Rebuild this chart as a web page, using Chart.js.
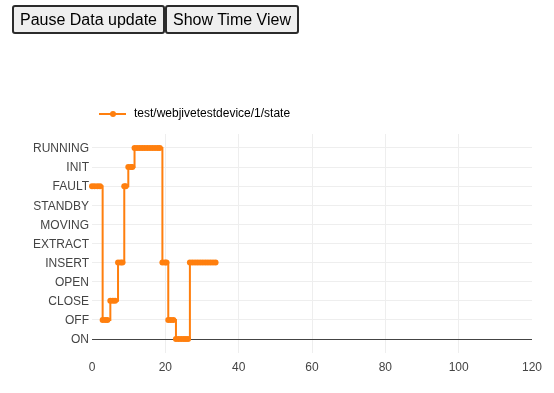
<!DOCTYPE html>
<html>
<head>
<meta charset="utf-8">
<script src="https://cdn.jsdelivr.net/npm/chart.js@4/dist/chart.umd.min.js"></script>
<style>
  body { margin: 0; background: #fff; font-family: "Liberation Sans", Arial, sans-serif; }
  #controls { position: absolute; left: 12px; top: 5px; display: flex; z-index: 2; }
  #controls button {
    font: 16px "Liberation Sans", Arial, sans-serif;
    line-height: 19px;
    padding: 3px 6px;
    color: #000;
    background: #efefef;
    border: 2px solid #2b2b2b;
    border-radius: 3px;
    margin: 0;
  }
  #wrap { position: absolute; left: 0; top: 0; width: 554px; height: 393px; }
</style>
</head>
<body>
<div id="controls">
  <button>Pause Data update</button><button>Show Time View</button>
</div>
<div id="wrap"><canvas id="stateChart" width="554" height="393"></canvas></div>
<script>
const seriesName = 'test/webjivetestdevice/1/state';
const stateLabels = ['ON', 'OFF', 'CLOSE', 'OPEN', 'INSERT', 'EXTRACT', 'MOVING', 'STANDBY', 'FAULT', 'INIT', 'RUNNING'];
const xTicks = [0, 20, 40, 60, 80, 100, 120];

const times = [
  0, 0.7, 1.5, 2.2,
  2.9, 3.6, 4.2,
  5.0, 5.7, 6.3,
  7.1, 7.8, 8.3,
  8.8, 9.2,
  9.9, 10.6, 11.0,
  11.6, 12.3, 13.0, 13.7, 14.4, 15.1, 15.8, 16.5, 17.2, 17.9, 18.5,
  19.2, 19.9, 20.3,
  20.8, 21.5, 22.2,
  22.9, 23.6, 24.3, 25.0, 25.6, 26.2,
  26.7, 27.4, 28.1, 28.8, 29.5, 30.2, 30.9, 31.6, 32.3, 33.0, 33.7
];
const states = [
  'FAULT', 'FAULT', 'FAULT', 'FAULT',
  'OFF', 'OFF', 'OFF',
  'CLOSE', 'CLOSE', 'CLOSE',
  'INSERT', 'INSERT', 'INSERT',
  'FAULT', 'FAULT',
  'INIT', 'INIT', 'INIT',
  'RUNNING', 'RUNNING', 'RUNNING', 'RUNNING', 'RUNNING', 'RUNNING', 'RUNNING', 'RUNNING', 'RUNNING', 'RUNNING', 'RUNNING',
  'INSERT', 'INSERT', 'INSERT',
  'OFF', 'OFF', 'OFF',
  'ON', 'ON', 'ON', 'ON', 'ON', 'ON',
  'INSERT', 'INSERT', 'INSERT', 'INSERT', 'INSERT', 'INSERT', 'INSERT', 'INSERT', 'INSERT', 'INSERT', 'INSERT'
];

const orange = '#ff7f0e';
const font = { family: '"Liberation Sans", Arial, sans-serif', size: 12 };

// legend symbol: short line with a dot, like the plot trace
const legendIcon = document.createElement('canvas');
legendIcon.width = 29;
legendIcon.height = 12;
const lctx = legendIcon.getContext('2d');
lctx.strokeStyle = orange;
lctx.lineWidth = 2;
lctx.beginPath();
lctx.moveTo(0, 6);
lctx.lineTo(27, 6);
lctx.stroke();
lctx.fillStyle = orange;
lctx.beginPath();
lctx.arc(14, 6, 3, 0, Math.PI * 2);
lctx.fill();

// a bit of room between legend and plot
const legendGap = {
  id: 'legendGap',
  beforeInit(chart) {
    const fit = chart.legend.fit;
    chart.legend.fit = function () {
      fit.call(this);
      this.height += 4;
    };
  }
};

new Chart(document.getElementById('stateChart'), {
  type: 'line',
  data: {
    datasets: [{
      label: seriesName,
      data: times.map((t, i) => ({ x: t, y: stateLabels.indexOf(states[i]) })),
      stepped: true,
      borderColor: orange,
      backgroundColor: orange,
      borderWidth: 2,
      pointRadius: 3,
      pointBorderWidth: 0,
      pointBackgroundColor: orange,
      fill: false,
      clip: false
    }]
  },
  options: {
    responsive: false,
    animation: false,
    layout: { padding: { left: 0, right: 22, top: 101, bottom: 18 } },
    plugins: {
      tooltip: { enabled: false },
      legend: {
        position: 'top',
        align: 'start',
        fullSize: false,
        labels: {
          usePointStyle: true,
          pointStyleWidth: 29,
          padding: 7,
          color: '#444',
          font: font,
          generateLabels: (chart) => [{
            text: seriesName,
            pointStyle: legendIcon,
            fillStyle: orange,
            strokeStyle: orange,
            lineWidth: 0,
            datasetIndex: 0
          }]
        }
      }
    },
    scales: {
      x: {
        type: 'linear',
        min: 0,
        max: 120,
        afterFit: (s) => { s.height = 22; },
        afterBuildTicks: (s) => { s.ticks = xTicks.map(v => ({ value: v })); },
        border: { display: false },
        grid: {
          drawTicks: false,
          color: (c) => (c.tick && (c.tick.value === 0 || c.tick.value === 120)) ? 'rgba(0,0,0,0)' : '#eee',
          lineWidth: 1
        },
        ticks: { color: '#444', font: font, padding: 7, maxRotation: 0 }
      },
      y: {
        type: 'linear',
        min: -0.73,
        max: 10.73,
        afterFit: (s) => { s.width = 92; },
        afterBuildTicks: (s) => { s.ticks = stateLabels.map((_, i) => ({ value: i })); },
        border: { display: false },
        grid: {
          drawTicks: false,
          color: (c) => (c.tick && c.tick.value === 0) ? '#444' : '#eee',
          lineWidth: 1
        },
        ticks: {
          color: '#444',
          font: font,
          padding: 3,
          labelOffset: 1,
          callback: (v) => stateLabels[v]
        }
      }
    }
  },
  plugins: [legendGap]
});
</script>
</body>
</html>
